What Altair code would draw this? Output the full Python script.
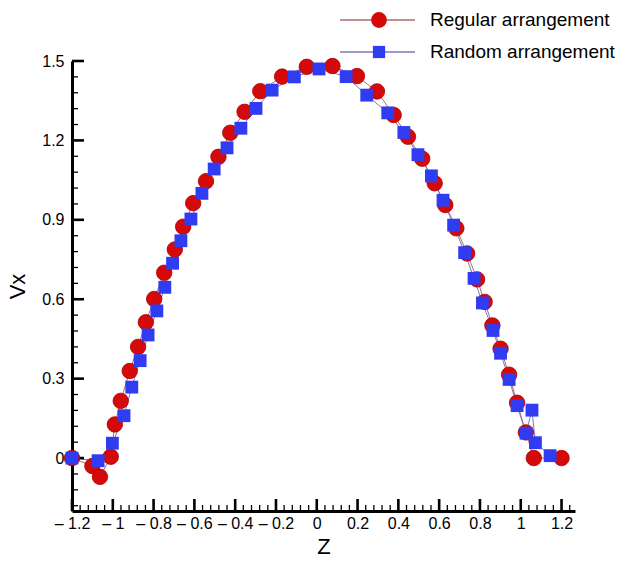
import altair as alt
import pandas as pd
import numpy as np

# ---- data ----
reg_z = [-1.2, -1.100, -1.063, -1.010, -0.990, -0.961, -0.917, -0.876, -0.838, -0.797,
         -0.748, -0.696, -0.655, -0.606, -0.543, -0.482, -0.424, -0.354, -0.277, -0.170,
         -0.049, 0.077, 0.197, 0.295, 0.377, 0.447, 0.517, 0.578, 0.630, 0.684,
         0.737, 0.786, 0.823, 0.861, 0.901, 0.943, 0.982, 1.025, 1.064, 1.2]
reg_v = [0.0, -0.030, -0.071, 0.005, 0.127, 0.216, 0.329, 0.420, 0.513, 0.601,
         0.700, 0.788, 0.874, 0.963, 1.046, 1.138, 1.229, 1.308, 1.386, 1.441,
         1.478, 1.481, 1.443, 1.385, 1.296, 1.214, 1.131, 1.038, 0.956, 0.868,
         0.773, 0.675, 0.590, 0.501, 0.413, 0.315, 0.209, 0.097, 0.0, 0.0]

ran_z = [-1.2, -1.072, -1.002, -0.945, -0.907, -0.866, -0.827, -0.784, -0.745, -0.707,
         -0.666, -0.617, -0.563, -0.503, -0.440, -0.372, -0.298, -0.219, -0.110, 0.011,
         0.144, 0.245, 0.348, 0.427, 0.496, 0.562, 0.619, 0.671, 0.725, 0.771,
         0.812, 0.864, 0.901, 0.943, 0.982, 1.026, 1.055, 1.072, 1.144]
ran_v = [0.0, -0.010, 0.056, 0.160, 0.268, 0.368, 0.465, 0.556, 0.645, 0.736,
         0.821, 0.903, 1.000, 1.092, 1.172, 1.246, 1.321, 1.390, 1.440, 1.470,
         1.441, 1.371, 1.304, 1.230, 1.146, 1.066, 0.974, 0.880, 0.776, 0.679,
         0.586, 0.482, 0.396, 0.297, 0.198, 0.094, 0.181, 0.058, 0.009]

series_names = ["Regular arrangement", "Random arrangement"]

x_major = [-1.2, -1.0, -0.8, -0.6, -0.4, -0.2, 0.0, 0.2, 0.4, 0.6, 0.8, 1.0, 1.2]
y_major = [0.0, 0.3, 0.6, 0.9, 1.2, 1.5]

x_minor = [round(v, 2) for v in np.arange(-1.2, 1.2401, 0.04)
           if min(abs(v - m) for m in x_major) > 1e-6]
y_minor = [round(v, 2) for v in np.arange(-0.18, 1.5001, 0.06)
           if min(abs(v - m) for m in y_major) > 1e-6]

RED = "#d40a0a"
BLUE = "#2f3cf2"
RED_LINE = "#b36a6a"
BLUE_LINE = "#7b7bb8"
FONT = "Liberation Sans"

W, H = 503, 450

df_reg = pd.DataFrame({"z": reg_z, "v": reg_v, "i": list(range(len(reg_z)))})
df_ran = pd.DataFrame({"z": ran_z, "v": ran_v, "i": list(range(len(ran_z)))})

xs = alt.Scale(domain=[-1.2, 1.266], nice=False, zero=False)
ys = alt.Scale(domain=[-0.2, 1.5], nice=False, zero=False)

x_axis = alt.Axis(
    values=x_major, title="Z", grid=False, ticks=False,
    labelExpr="datum.value < 0 ? '– ' + format(-datum.value, '~g') : format(datum.value, '~g')",
    labelPadding=4, titlePadding=5,
)
y_axis = alt.Axis(
    values=y_major, title="Vx", grid=False, ticks=False, format=".1~f",
    labelPadding=8, titlePadding=12,
)

X = lambda f: alt.X(f, scale=xs, axis=x_axis)
Y = lambda f: alt.Y(f, scale=ys, axis=y_axis)

line_reg = alt.Chart(df_reg).mark_line(color=RED_LINE, strokeWidth=1, clip=False).encode(
    x=X("z:Q"), y=Y("v:Q"), order="i:Q")
line_ran = alt.Chart(df_ran).mark_line(color=BLUE_LINE, strokeWidth=1, clip=False).encode(
    x=X("z:Q"), y=Y("v:Q"), order="i:Q")
pts_reg = alt.Chart(df_reg).mark_point(
    shape="circle", filled=True, size=240, color=RED, opacity=1,
    stroke="#b00000", strokeWidth=0.8, clip=False
).encode(x=X("z:Q"), y=Y("v:Q"))
pts_ran = alt.Chart(df_ran).mark_point(
    shape="square", filled=True, size=165, color=BLUE, opacity=1, clip=False
).encode(x=X("z:Q"), y=Y("v:Q"))

# inward ticks
def xticks(vals, length, width):
    return alt.Chart(pd.DataFrame({"t": vals})).mark_rule(color="black", strokeWidth=width).encode(
        x=X("t:Q"), y=alt.value(H), y2=alt.value(H - length))

def yticks(vals, length, width):
    return alt.Chart(pd.DataFrame({"t": vals})).mark_rule(color="black", strokeWidth=width).encode(
        y=Y("t:Q"), x=alt.value(0), x2=alt.value(length))

ticks = [xticks(x_major, 12, 2.6), xticks(x_minor, 6, 1.3),
         yticks(y_major, 12, 2.6), yticks(y_minor, 6, 1.3)]

# legend
leg_rows = []
for name, col, lcol, shp, sz, yy in [
    (series_names[0], RED, RED_LINE, "circle", 250, -41),
    (series_names[1], BLUE, BLUE_LINE, "square", 150, -9),
]:
    d = pd.DataFrame({"label": [name]})
    base = alt.Chart(d)
    leg_rows.append(base.mark_rule(color=lcol, strokeWidth=1.3).encode(
        x=alt.value(268), x2=alt.value(343), y=alt.value(yy)))
    leg_rows.append(base.mark_point(shape=shp, filled=True, size=sz, color=col, opacity=1).encode(
        x=alt.value(307), y=alt.value(yy)))
    leg_rows.append(base.mark_text(align="left", baseline="middle", font=FONT, fontSize=19,
                                   color="black").encode(
        x=alt.value(358), y=alt.value(yy), text="label:N"))

chart = alt.layer(line_reg, line_ran, *ticks, pts_reg, pts_ran, *leg_rows).properties(
    width=W, height=H, background="white",
    autosize=alt.AutoSizeParams(type="none"),
    padding={"left": 72, "top": 61, "right": 55, "bottom": 50},
).configure_view(stroke=None).configure_axis(
    domainColor="black", domainWidth=3,
    labelFont=FONT, labelFontSize=16, labelColor="black", labelFlush=False,
    titleFont=FONT, titleFontSize=22, titleFontWeight="normal", titleColor="black",
)

chart.save("out.html", embed_options={"renderer": "svg", "actions": False})
